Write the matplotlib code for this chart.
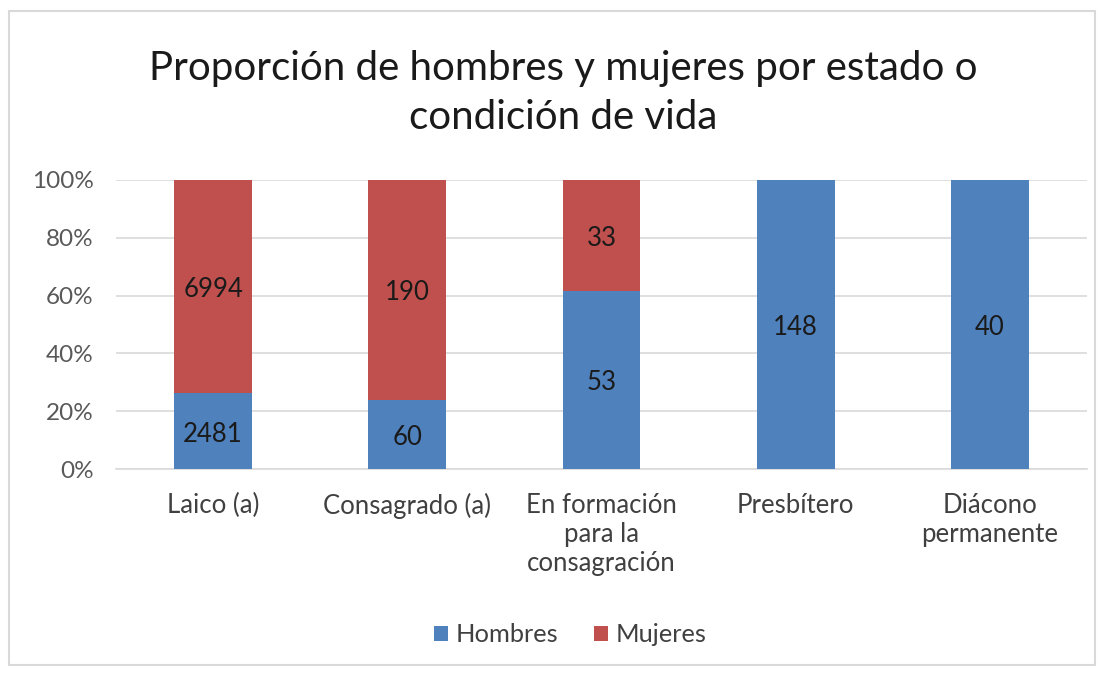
import matplotlib
matplotlib.use("Agg")
import matplotlib.pyplot as plt
from matplotlib.patches import Rectangle
import matplotlib.transforms as mtransforms
import numpy as np

categories = ["Laico (a)", "Consagrado (a)", "En formación\npara la\nconsagración", "Presbítero", "Diácono\npermanente"]
hombres = [2481, 60, 53, 148, 40]
mujeres = [6994, 190, 33, 0, 0]
yticks = [0, 20, 40, 60, 80, 100]
title = "Proporción de hombres y mujeres por estado o\ncondición de vida"

blue = "#4F81BD"
red = "#C0504D"

plt.rcParams['font.family'] = ['Lato', 'DejaVu Sans']

fig = plt.figure(figsize=(11.05, 6.73), dpi=100)
fig.patches.append(Rectangle((9/1105, 1-665/673), (1095-9)/1105, (665-11)/673,
                             transform=fig.transFigure, fill=False, edgecolor="#D9D9D9", linewidth=1.5))
ax = fig.add_axes([116/1105, 1-469/673, (1087-116)/1105, (469-180)/673])

h = np.array(hombres, float)
m = np.array(mujeres, float)
tot = h + m
hp = h / tot * 100
mp = m / tot * 100
x = np.arange(len(categories))
w = 0.40
ax.bar(x, hp, w, color=blue, label="Hombres", zorder=3)
ax.bar(x, mp, w, bottom=hp, color=red, label="Mujeres", zorder=3)

shift = ax.transData + mtransforms.ScaledTranslation(0, -3/100, fig.dpi_scale_trans)
for i in range(len(x)):
    if h[i] > 0:
        ax.text(x[i], hp[i]/2, f"{hombres[i]}", ha="center", va="center", fontsize=18.5,
                color="#1a1a1a", zorder=4, transform=shift)
    if m[i] > 0:
        ax.text(x[i], hp[i] + mp[i]/2, f"{mujeres[i]}", ha="center", va="center", fontsize=18.5,
                color="#1a1a1a", zorder=4, transform=shift)

ax.set_xlim(-0.5, len(categories)-0.5)
ax.set_ylim(0, 100)
ax.set_yticks(yticks)
ax.set_yticklabels([f"{t}%" for t in yticks], fontsize=17.5, color="#595959")
ax.set_xticks(x)
ax.set_xticklabels(categories, fontsize=18.5, color="#404040", va="top", linespacing=1.22)
ax.tick_params(axis="both", length=0)
ax.tick_params(axis="x", pad=17)
ax.tick_params(axis="y", pad=16)
ax.grid(axis="y", color="#D9D9D9", linewidth=1.2, zorder=0)
for s in ["top", "right", "left"]:
    ax.spines[s].set_visible(False)
ax.spines["bottom"].set_color("#D9D9D9")
ax.spines["bottom"].set_linewidth(1.2)

fig.text(0.5 + 11/1105, 1-93/673, title, ha="center", va="center", fontsize=29, color="#1a1a1a", linespacing=1.38)

fig.legend(loc="center", bbox_to_anchor=(0.5 + 18/1105, 1-635/673), ncol=2, frameon=False, fontsize=18.3,
           handlelength=0.55, handleheight=0.55, handletextpad=0.3, columnspacing=1.4, labelcolor="#404040")

fig.savefig("out.png", dpi=100)
